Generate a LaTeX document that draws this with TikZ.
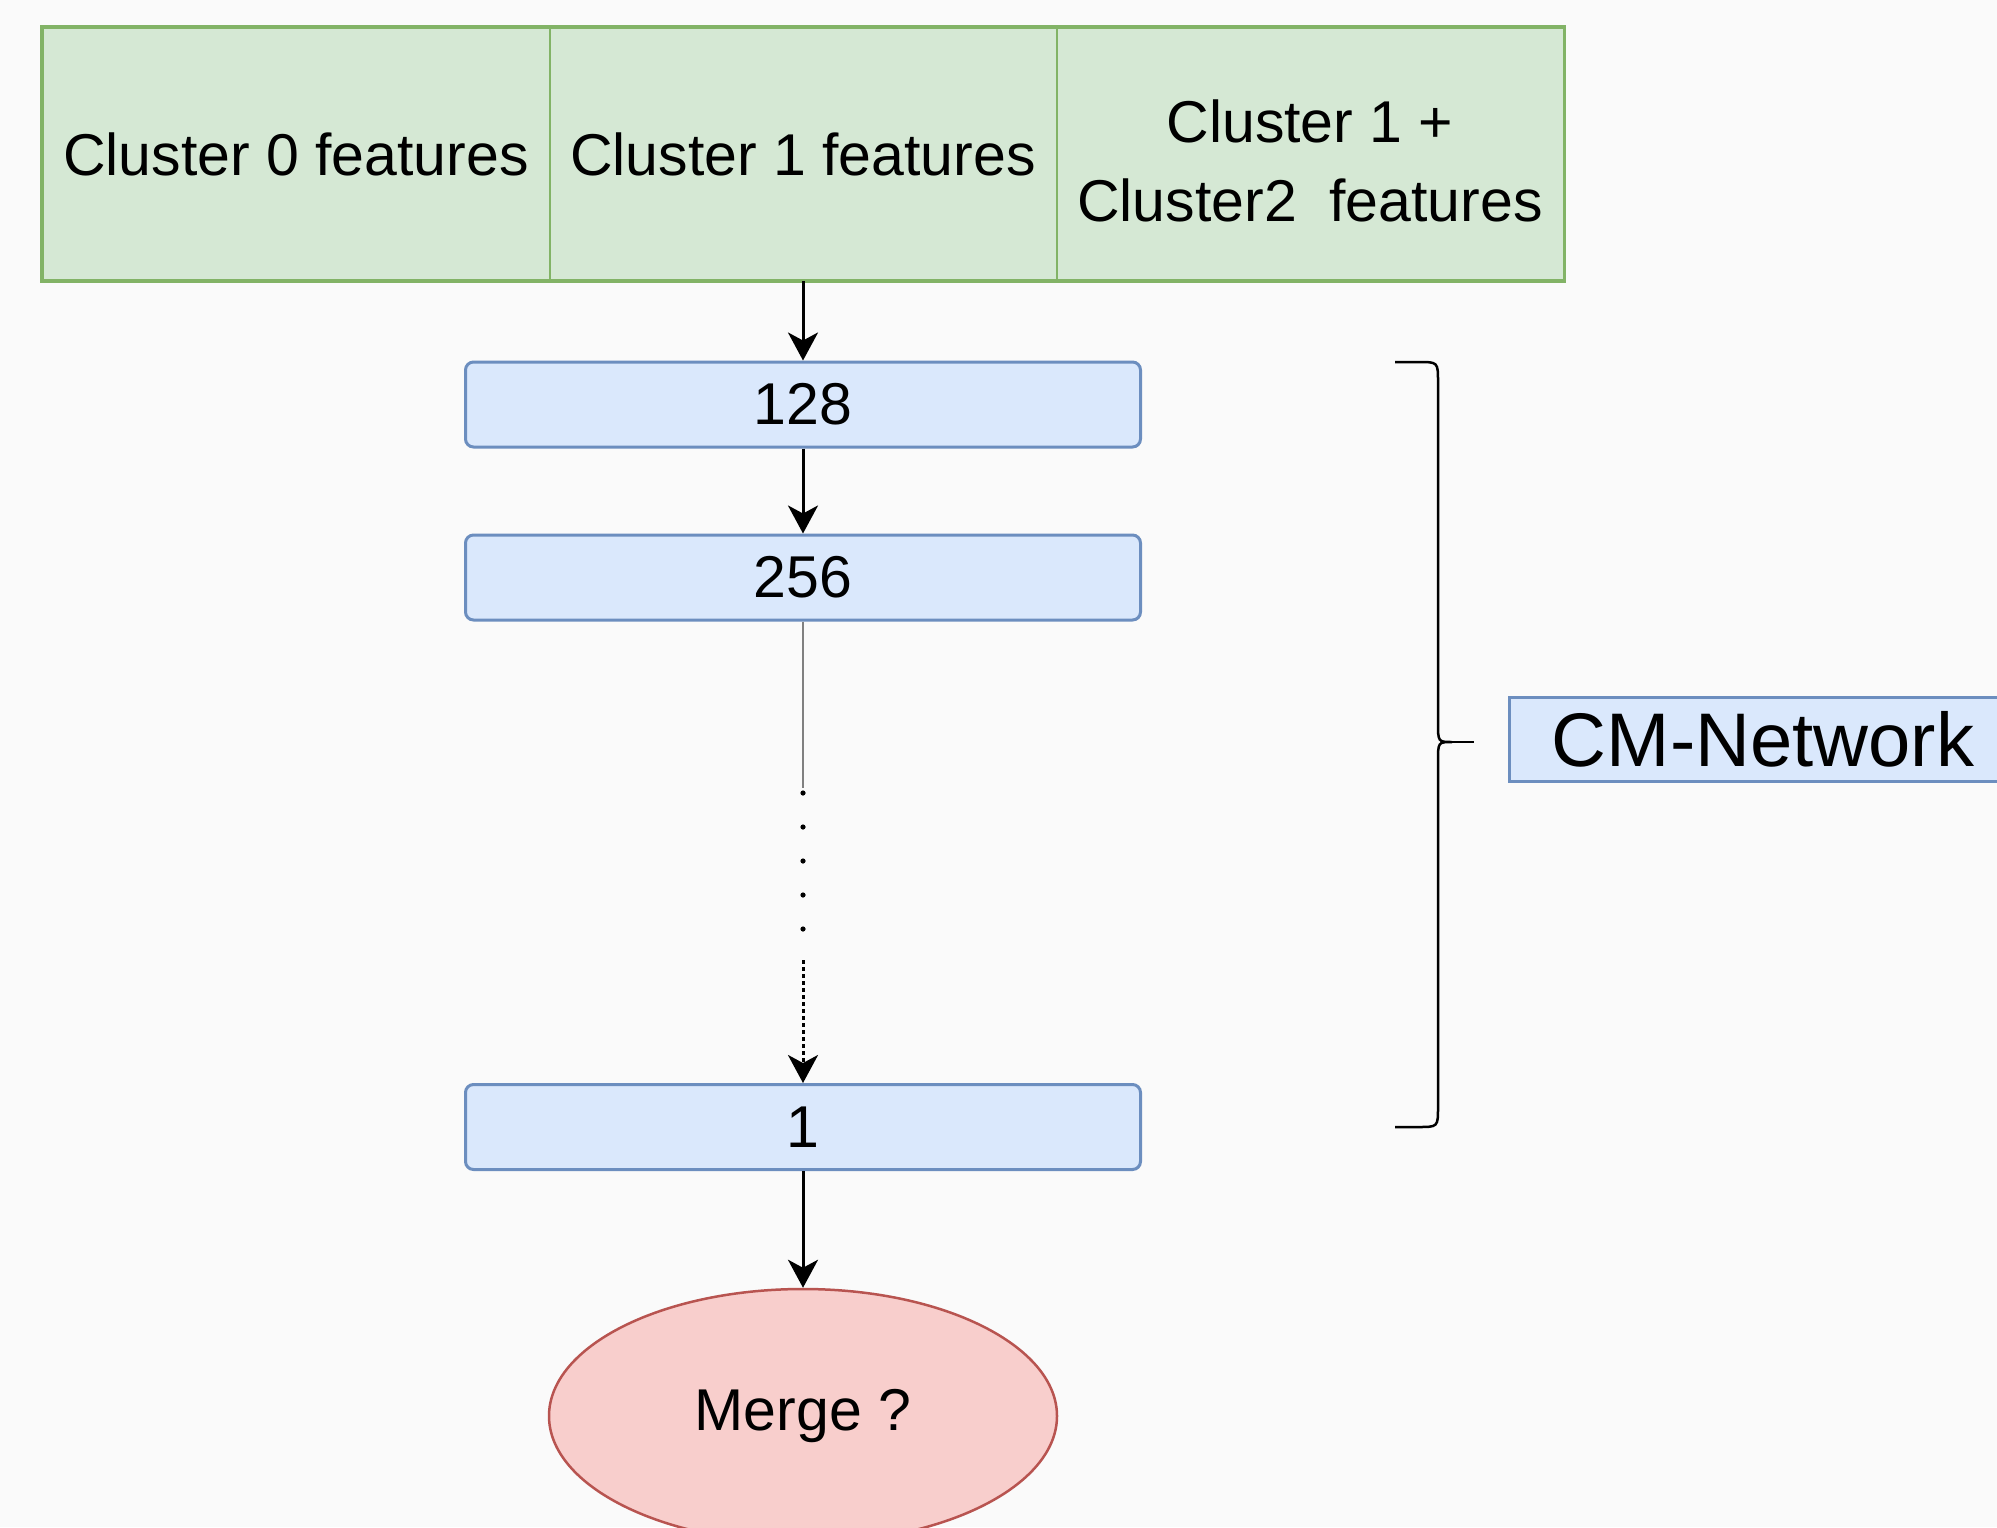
\documentclass[tikz,border=0pt]{standalone}
\usepackage{fontspec}
\setmainfont{Liberation Sans}
\usetikzlibrary{arrows.meta,shapes.geometric}
\definecolor{bgcol}{HTML}{FAFAFA}
\definecolor{greenfill}{HTML}{D5E8D4}
\definecolor{greenline}{HTML}{82B366}
\definecolor{bluefill}{HTML}{DAE8FC}
\definecolor{blueline}{HTML}{6C8EBF}
\definecolor{redfill}{HTML}{F8CECC}
\definecolor{redline}{HTML}{B85450}

\begin{document}
\begin{tikzpicture}[x=0.5pt,y=-0.5pt]
\def\px{0.5pt}; %one unit of the picture
\def\midx{803}; %x of the middle column
\def\cellw{507}; %width of one cluster cell
\def\cellh{252}; %height of the cluster row
\def\boxw{675}; %width of a layer box
\def\boxh{85}; %height of a layer box
\def\dotgap{34}; %vertical gap between the dots

\tikzstyle{cell} = [rectangle, draw=greenline, line width=1pt, fill=greenfill, inner sep=0mm, minimum width=\cellw*\px, minimum height=\cellh*\px, align=center, font=\fontsize{29.5pt}{39.5pt}\selectfont]
\tikzstyle{celltext} = [inner sep=0mm, align=center, font=\fontsize{29.5pt}{39.5pt}\selectfont]
\tikzstyle{layer} = [rectangle, rounded corners=4pt, draw=blueline, line width=1.5pt, fill=bluefill, inner sep=0mm, minimum width=\boxw*\px, minimum height=\boxh*\px, font=\fontsize{29.5pt}{35pt}\selectfont]
\tikzstyle{merge} = [ellipse, draw=redline, line width=1.25pt, fill=redfill, inner sep=0mm, minimum width=508*\px, minimum height=254*\px, font=\fontsize{29.5pt}{35pt}\selectfont]
\tikzstyle{tag} = [rectangle, draw=blueline, line width=1.5pt, fill=bluefill, inner sep=0mm, minimum width=508*\px, minimum height=84*\px, font=\fontsize{38pt}{44pt}\selectfont]
\tikzstyle{flow} = [line width=1.5pt, -{Stealth[length=14pt,width=15pt,inset=4pt]}]

\path[use as bounding box, clip] (0,0) rectangle (1997,1527);
\fill[bgcol] (0,0) rectangle (1997,1527);

% input features
\node[cell] (c0) at (\midx-\cellw,154) {Cluster 0 features};
\node[cell] (c1) at (\midx,154) {Cluster 1 features};
\node[cell] (c2) at (\midx+\cellw,154) {};
\node[celltext] (c2text) at (\midx+\cellw,161) {Cluster 1 +\\Cluster2~ features};
\draw[greenline, line width=1.75pt] (c0.north west) rectangle (c2.south east);

% layers
\node[layer] (n128) at (\midx,404.5) {128};
\node[layer] (n256) at (\midx,577.5) {256};
\node[layer] (n1) at (\midx,1127) {1};
\node[merge] (merge) at (\midx,1416) {Merge ?};

\draw[flow] (c1.south) -- (n128.north);
\draw[flow] (n128.south) -- (n256.north);
\draw[flow] (n1.south) -- (merge.north);

\coordinate (solidend) at (\midx,788);
\coordinate (dotstart) at (\midx,960);
\draw[gray, line width=1.25pt] (n256.south) -- (solidend);
\foreach \k in {0,...,4}{
 \fill (\midx,793+\k*\dotgap) circle (2.6);
}
\draw[flow, dash pattern=on 1.75pt off 1.75pt] (dotstart) -- (n1.north);

% brace and label
\draw[line width=1.25pt] (1395,362) -- (1418,362) .. controls (1438,362) .. (1438,382) -- (1438,722) .. controls (1438,742) .. (1452,742) .. controls (1438,742) .. (1438,762) -- (1438,1107) .. controls (1438,1127) .. (1418,1127) -- (1395,1127);
\coordinate (bracetip) at (1452,742);
\coordinate (braceend) at (1474,742);
\draw[line width=1.25pt] (bracetip) -- (braceend);
\node[tag] (cmnet) at (1763,739) {CM-Network};

\end{tikzpicture}
\end{document}
